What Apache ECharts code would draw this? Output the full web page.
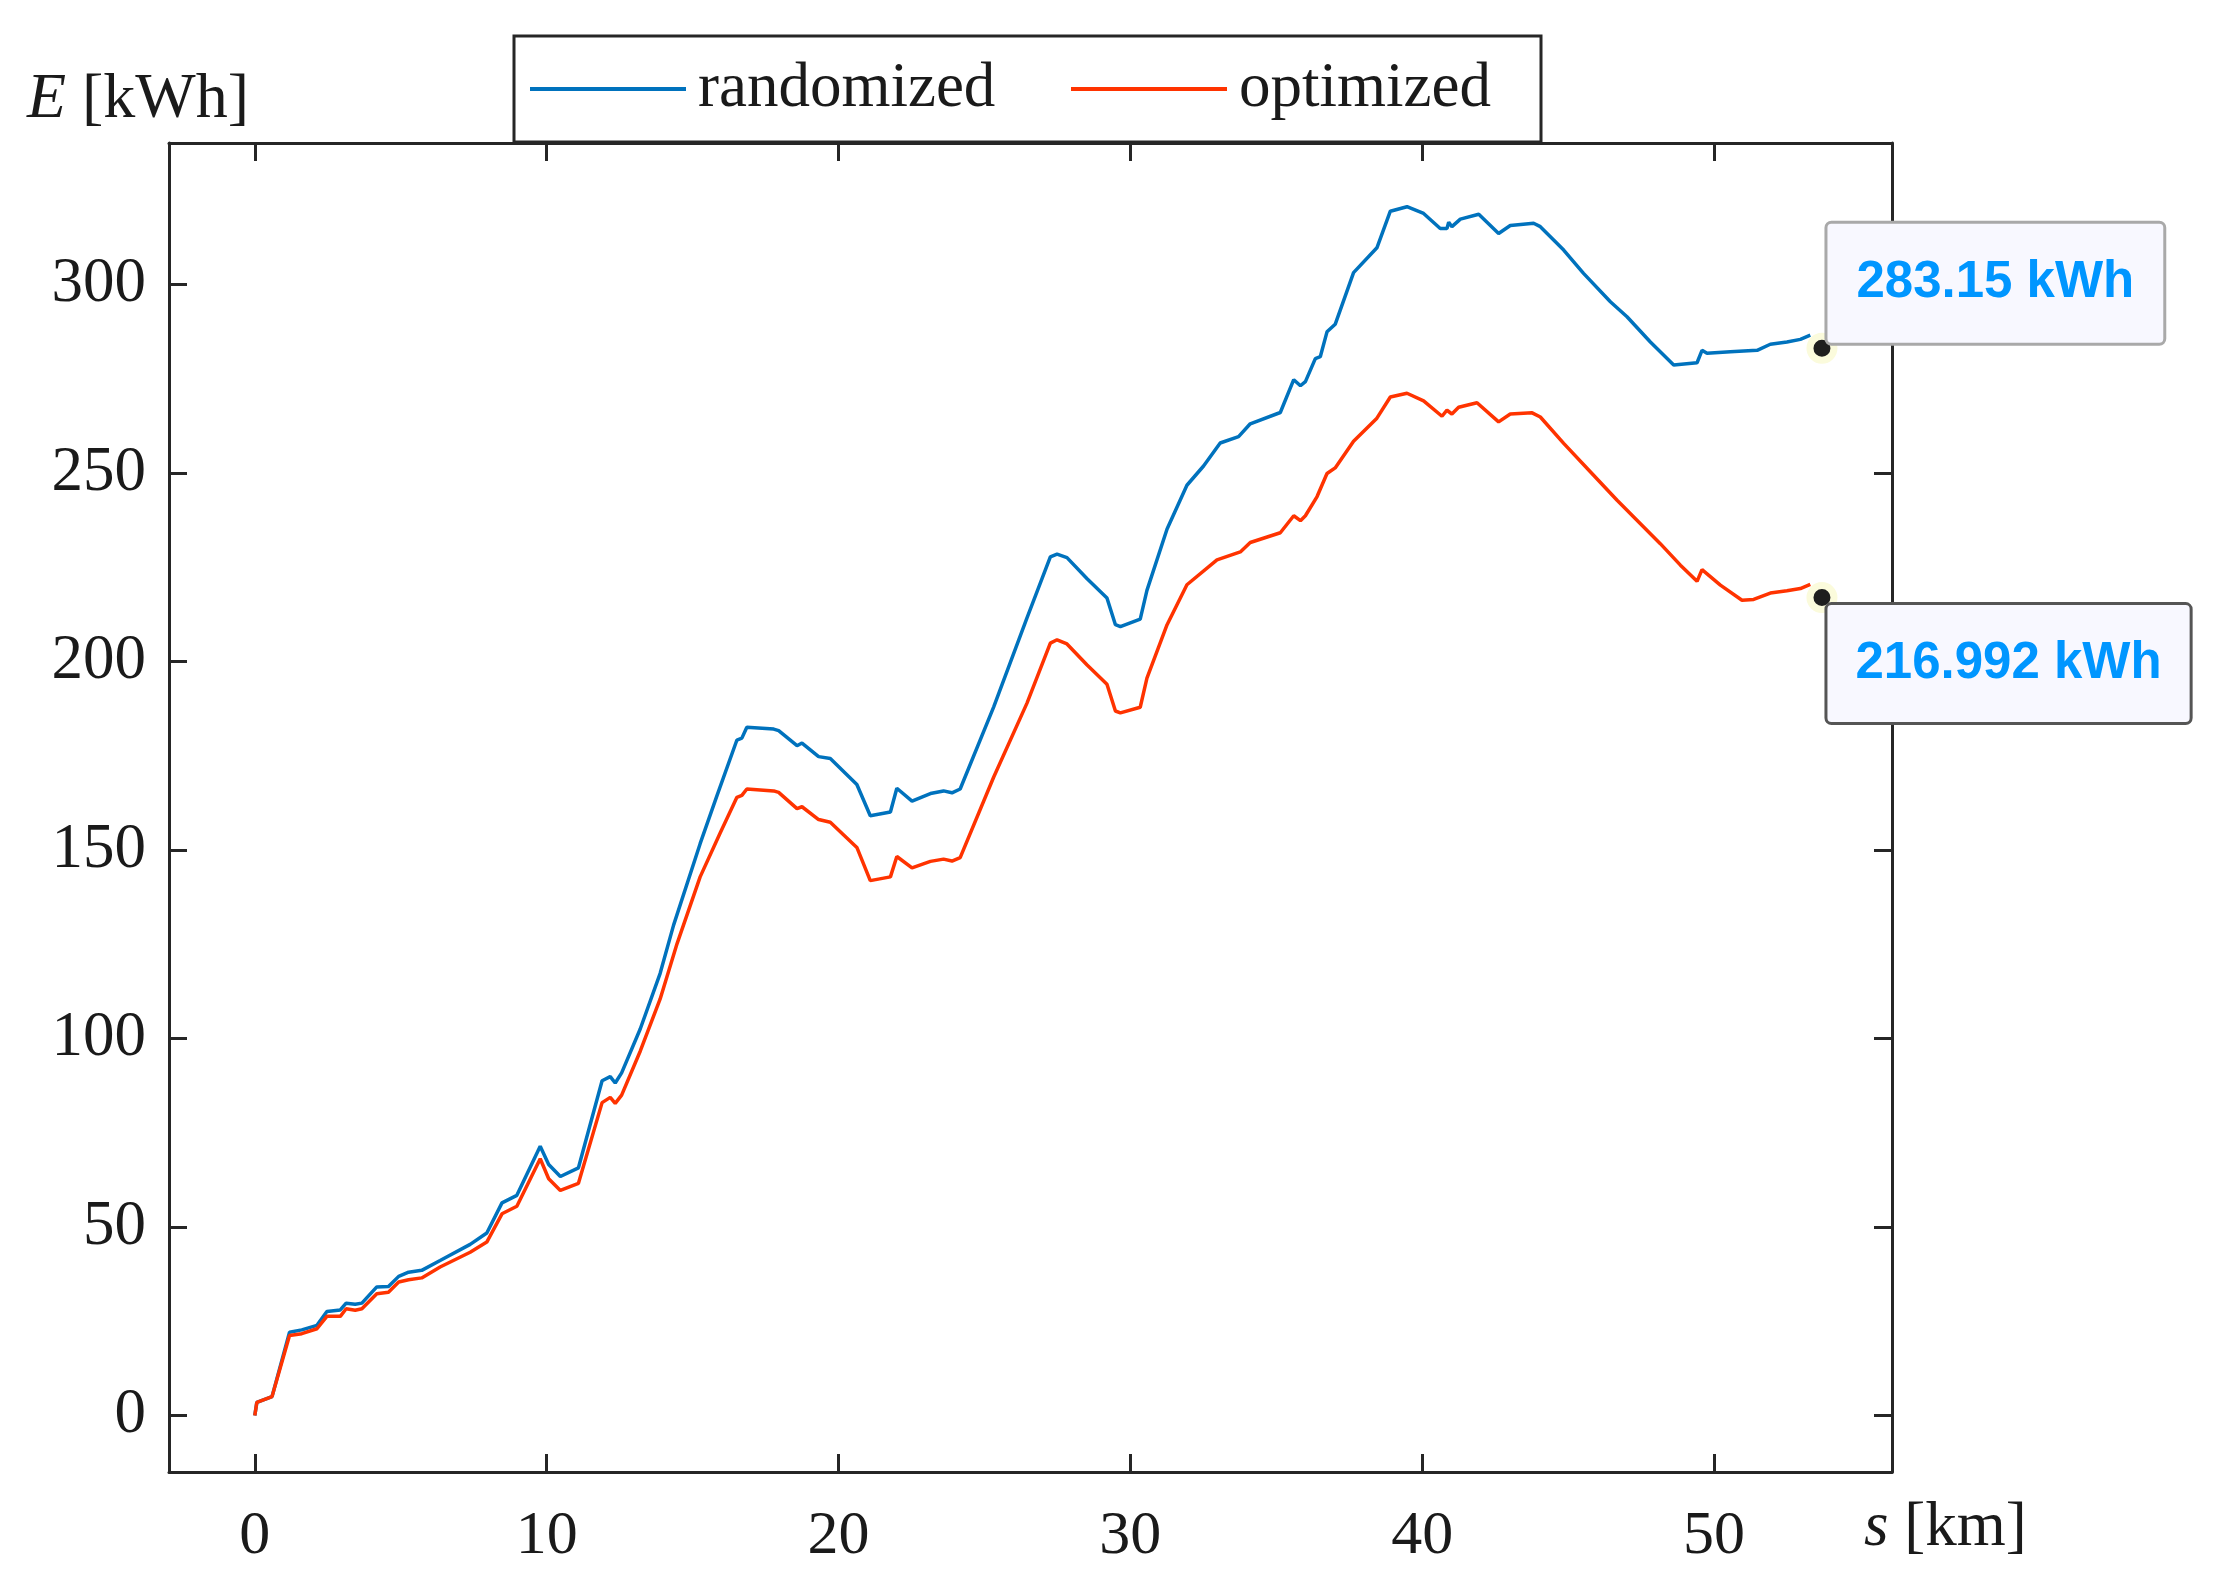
<!DOCTYPE html>
<html>
<head>
<meta charset="utf-8">
<script src="https://cdn.jsdelivr.net/npm/echarts@6/dist/echarts.min.js"></script>
<style>
html,body{margin:0;padding:0;background:#ffffff;}
#chart{width:2217px;height:1580px;}
</style>
</head>
<body>
<div id="chart"></div>
<script>
// ---- data ----
const sRandomized = [0, 0.07, 0.59, 1.19, 1.61, 2.13, 2.47, 2.93, 3.13, 3.44, 3.67, 4.18, 4.58, 4.93, 5.27, 5.72, 6.35, 7.38, 7.95, 8.47, 8.98, 9.78, 10.07, 10.47, 11.09, 11.9, 12.18, 12.35, 12.57, 13.21, 13.89, 14.35, 15.26, 15.84, 16.52, 16.69, 16.86, 17.78, 17.95, 18.58, 18.75, 19.32, 19.72, 20.63, 21.09, 21.78, 22.0, 22.52, 23.15, 23.6, 23.89, 24.17, 25.32, 26.46, 27.26, 27.49, 27.83, 28.52, 29.2, 29.49, 29.66, 30.34, 30.57, 31.26, 31.94, 32.51, 33.08, 33.71, 34.11, 35.14, 35.6, 35.83, 36.0, 36.34, 36.51, 36.74, 37.02, 37.65, 38.45, 38.91, 39.48, 40.05, 40.62, 40.85, 40.91, 41.02, 41.31, 41.94, 42.62, 43.02, 43.82, 44.05, 44.85, 45.53, 46.45, 47.02, 47.82, 48.62, 49.42, 49.59, 49.76, 50.56, 51.48, 51.93, 52.5, 52.96, 53.3];
const eRandomized = [0, 3.5, 5.0, 22.1, 22.7, 23.9, 27.6, 28.0, 29.8, 29.5, 29.8, 34.1, 34.2, 36.9, 38.0, 38.5, 41.1, 45.4, 48.4, 56.4, 58.4, 71.4, 66.6, 63.4, 65.7, 88.8, 89.9, 88.2, 90.9, 102.6, 117.3, 130.1, 151.7, 164.5, 179.2, 179.7, 182.6, 182.1, 181.7, 177.7, 178.4, 174.8, 174.3, 167.4, 159.1, 160.1, 166.4, 163.0, 165.0, 165.7, 165.2, 166.2, 188.0, 211.6, 227.8, 228.5, 227.6, 222.0, 216.9, 209.8, 209.3, 211.3, 218.9, 235.2, 246.8, 251.9, 258.0, 259.7, 263.1, 266.1, 274.8, 273.2, 274.3, 280.4, 280.9, 287.5, 289.5, 303.2, 309.8, 319.5, 320.7, 318.9, 314.9, 314.9, 316.6, 315.4, 317.4, 318.7, 313.6, 315.7, 316.3, 315.4, 309.2, 303.0, 295.5, 291.5, 284.8, 278.7, 279.3, 282.6, 281.8, 282.2, 282.6, 284.2, 284.8, 285.5, 286.6];

const sOptimized = [0, 0.07, 0.59, 1.19, 1.61, 2.13, 2.47, 2.93, 3.13, 3.44, 3.67, 4.18, 4.58, 4.93, 5.27, 5.72, 6.35, 7.38, 7.95, 8.47, 8.98, 9.78, 10.07, 10.47, 11.09, 11.9, 12.18, 12.35, 12.57, 13.21, 13.89, 14.47, 15.26, 15.95, 16.52, 16.69, 16.86, 17.78, 17.95, 18.58, 18.75, 19.32, 19.72, 20.63, 21.09, 21.78, 22.0, 22.52, 23.15, 23.6, 23.89, 24.17, 25.32, 26.46, 27.26, 27.49, 27.83, 28.52, 29.2, 29.49, 29.66, 30.34, 30.57, 31.26, 31.94, 32.97, 33.77, 34.11, 35.14, 35.6, 35.83, 36.0, 36.4, 36.74, 37.02, 37.65, 38.45, 38.91, 39.48, 40.05, 40.68, 40.85, 41.02, 41.25, 41.88, 42.62, 43.02, 43.77, 44.05, 44.85, 45.77, 46.68, 47.48, 48.16, 48.85, 49.42, 49.59, 50.22, 50.96, 51.36, 51.93, 52.5, 52.96, 53.3];
const eOptimized = [0, 3.5, 5.0, 21.2, 21.7, 23.0, 26.3, 26.3, 28.3, 27.9, 28.3, 32.3, 32.7, 35.4, 36.0, 36.5, 39.4, 43.3, 46.0, 53.5, 55.5, 68.1, 62.8, 59.7, 61.6, 83.0, 84.4, 82.8, 85.0, 96.7, 110.5, 125.2, 142.9, 154.6, 164.0, 164.5, 166.2, 165.7, 165.3, 161.0, 161.5, 158.1, 157.4, 150.7, 141.9, 142.9, 148.3, 145.3, 147.0, 147.6, 147.1, 148.0, 169.4, 189.0, 204.9, 205.8, 204.7, 199.1, 194.0, 186.9, 186.4, 187.9, 195.6, 209.8, 220.4, 227.0, 229.1, 231.6, 234.2, 238.7, 237.4, 238.7, 243.8, 249.9, 251.4, 258.5, 264.6, 270.2, 271.2, 269.2, 265.1, 266.7, 265.7, 267.5, 268.7, 263.6, 265.7, 266.0, 264.9, 257.9, 250.3, 242.8, 236.6, 231.3, 225.6, 221.3, 224.4, 220.3, 216.3, 216.5, 218.2, 218.8, 219.4, 220.5];

// data tips (end values shown in the boxes)
const tipS = [53.7, 53.7];
const tipE = [283.15, 216.992];

const xTicks = [0, 10, 20, 30, 40, 50];
const yTicks = [0, 50, 100, 150, 200, 250, 300];
const seriesNames = ['randomized', 'optimized'];

// ---- styling ----
const SERIF = 'Liberation Serif';
const AX = '#262626';
const BLUE = '#0072BD';
const RED = '#FF3300';

function zip(a, b) { return a.map((v, i) => [v, b[i]]); }

const xRange = { min: -2.94, max: 56.1 };
const yRange = { min: -15, max: 337.6 };

function xAxisCfg(pos, showLabels) {
  return {
    type: 'value', position: pos, min: xRange.min, max: xRange.max,
    axisLine: { show: true, onZero: false, lineStyle: { color: AX, width: 3 } },
    axisTick: { show: true, inside: true, length: 18, customValues: xTicks, lineStyle: { color: AX, width: 3 } },
    axisLabel: { show: showLabels, customValues: xTicks, margin: 33, fontFamily: SERIF, fontSize: 62, lineHeight: 63, color: '#1a1a1a' },
    splitLine: { show: false }
  };
}
function yAxisCfg(pos, showLabels) {
  return {
    type: 'value', position: pos, min: yRange.min, max: yRange.max,
    axisLine: { show: true, onZero: false, lineStyle: { color: AX, width: 3 } },
    axisTick: { show: true, inside: true, length: 18, customValues: yTicks, lineStyle: { color: AX, width: 3 } },
    axisLabel: { show: showLabels, customValues: yTicks, margin: 23, fontFamily: SERIF, fontSize: 63, lineHeight: 63, color: '#1a1a1a' },
    splitLine: { show: false }
  };
}

const xBottom = xAxisCfg('bottom', true);
xBottom.name = '{i|s} [km]';
xBottom.nameLocation = 'end';
xBottom.nameGap = -28;
xBottom.nameTextStyle = { fontFamily: SERIF, fontSize: 63, lineHeight: 63, color: '#1a1a1a', align: 'left', verticalAlign: 'middle', padding: [112, 0, 0, 0],
  rich: { i: { fontFamily: SERIF, fontSize: 63, lineHeight: 63, fontStyle: 'italic', color: '#1a1a1a' } } };

const yLeft = yAxisCfg('left', true);
yLeft.name = '{i|E} [kWh]';
yLeft.nameLocation = 'end';
yLeft.nameGap = 11;
yLeft.nameTextStyle = { fontFamily: SERIF, fontSize: 64, lineHeight: 63, color: '#1a1a1a', align: 'center', verticalAlign: 'bottom', padding: [0, 62, 0, 0],
  rich: { i: { fontFamily: SERIF, fontSize: 64, lineHeight: 63, fontStyle: 'italic', color: '#1a1a1a' } } };

const tipLabelBase = {
  show: true,
  formatter: p => p.value[1] + ' kWh',
  fontFamily: 'Liberation Sans', fontWeight: 'bold', fontSize: 51, lineHeight: 61,
  color: '#0096ff', backgroundColor: '#f8f8ff', borderWidth: 3, borderRadius: 4,
  align: 'left', verticalAlign: 'top', opacity: 1
};

const option = {
  animation: false,
  backgroundColor: '#ffffff',
  grid: { left: 169, right: 325, top: 143, bottom: 108, containLabel: false, outerBoundsMode: 'none' },
  legend: {
    data: [
      { name: seriesNames[0], icon: 'rect', textStyle: { width: 335 } },
      { name: seriesNames[1], icon: 'rect', textStyle: { width: 280 } }
    ],
    left: 514, top: 36,
    orient: 'horizontal',
    itemWidth: 156, itemHeight: 4, itemGap: 38,
    padding: [14, 22, 14, 16],
    backgroundColor: '#ffffff', borderColor: AX, borderWidth: 3, borderRadius: 0,
    textStyle: { fontFamily: SERIF, fontSize: 63, lineHeight: 63, color: '#1a1a1a', padding: [0, 0, 15, 7] },
    selectedMode: false
  },
  xAxis: [xBottom, xAxisCfg('top', false)],
  yAxis: [yLeft, yAxisCfg('right', false)],
  series: [
    {
      name: seriesNames[0], type: 'line', data: zip(sRandomized, eRandomized),
      showSymbol: false, symbol: 'none', smooth: false,
      lineStyle: { color: BLUE, width: 3.5 }, itemStyle: { color: BLUE }, z: 3
    },
    {
      name: seriesNames[1], type: 'line', data: zip(sOptimized, eOptimized),
      showSymbol: false, symbol: 'none', smooth: false,
      lineStyle: { color: RED, width: 3.5 }, itemStyle: { color: RED }, z: 3
    },
    {
      name: 'datatips', type: 'scatter', z: 10,
      symbol: 'circle', symbolSize: 24,
      itemStyle: { color: '#1e1e1e', borderColor: '#fbfbdc', borderWidth: 7, opacity: 1 },
      emphasis: { disabled: true },
      clip: false,
      label: tipLabelBase,
      data: [
        { value: [tipS[0], tipE[0]], label: { position: [21, -109], borderColor: '#a9a9a9', padding: [29, 29, 29, 29] } },
        { value: [tipS[1], tipE[1]], label: { position: [21, 23], borderColor: '#555555', padding: [28, 28, 28, 28] } }
      ]
    }
  ]
};

const chart = echarts.init(document.getElementById('chart'), null, { renderer: 'canvas' });
chart.setOption(option);
</script>
</body>
</html>
